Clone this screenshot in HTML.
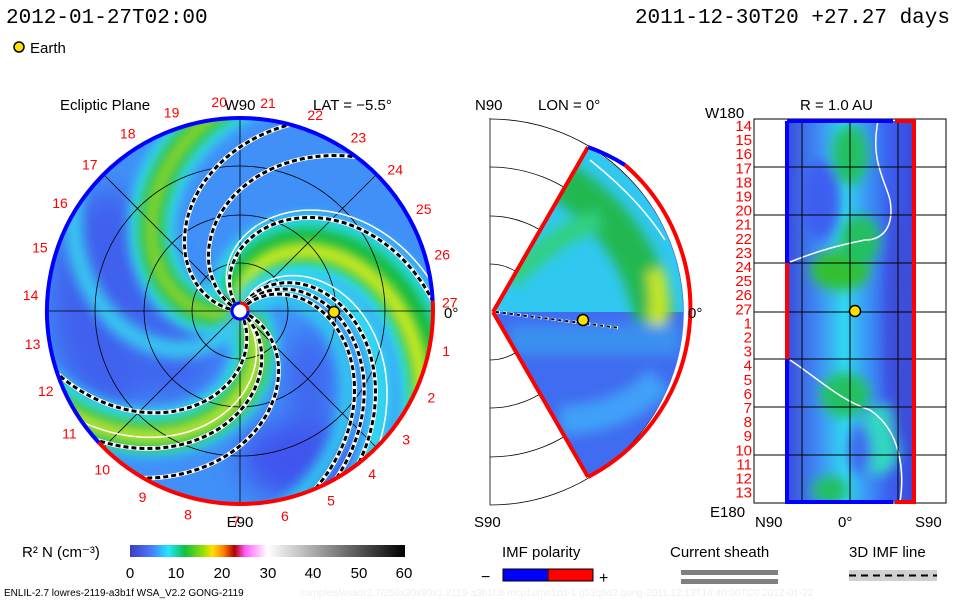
<!DOCTYPE html>
<html><head><meta charset="utf-8"><style>
html,body{margin:0;padding:0;background:#fff;}
svg{display:block;font-family:"Liberation Sans",sans-serif;}
</style></head><body>
<svg id="s" width="960" height="600" viewBox="0 0 960 600" xmlns="http://www.w3.org/2000/svg">
<defs>
<filter id="b6" x="-50%" y="-50%" width="200%" height="200%"><feGaussianBlur stdDeviation="6"/></filter>
<filter id="b12" x="-50%" y="-50%" width="200%" height="200%"><feGaussianBlur stdDeviation="14"/></filter>
<clipPath id="cc"><circle cx="240" cy="311" r="193"/></clipPath>
<clipPath id="cw"><path d="M493,312 L588,147 A190,190 0 0 1 588,477 Z"/></clipPath>
<clipPath id="cr"><rect x="786" y="121" width="129" height="381"/></clipPath>
<linearGradient id="cb" x1="0" x2="1">
<stop offset="0" stop-color="#3c3cc0"/><stop offset="0.08" stop-color="#4a7cff"/><stop offset="0.14" stop-color="#20e8ff"/>
<stop offset="0.2" stop-color="#10c040"/><stop offset="0.27" stop-color="#a0e000"/><stop offset="0.3" stop-color="#ffe000"/>
<stop offset="0.34" stop-color="#ff8000"/><stop offset="0.38" stop-color="#b00000"/><stop offset="0.42" stop-color="#ff60ff"/>
<stop offset="0.5" stop-color="#ffffff"/><stop offset="1" stop-color="#000000"/></linearGradient>
<linearGradient id="rg" x1="0" x2="1">
<stop offset="0" stop-color="#3a4ad8"/><stop offset="0.25" stop-color="#3f8cf5"/><stop offset="0.45" stop-color="#30d8f0"/>
<stop offset="0.6" stop-color="#3aa0f5"/><stop offset="0.8" stop-color="#3c5ef0"/><stop offset="1" stop-color="#3a4ad8"/></linearGradient>
</defs>
<g font-size="21" fill="#000" font-family="Liberation Mono, monospace">
<text x="6" y="23">2012-01-27T02:00</text>
<text x="950" y="23" text-anchor="end">2011-12-30T20 +27.27 days</text>
</g>
<circle cx="19" cy="47" r="5" fill="#ffe000" stroke="#000" stroke-width="1.5"/>
<text x="30" y="53" font-size="15">Earth</text>

<g clip-path="url(#cc)">
<rect x="40" y="110" width="400" height="410" fill="#4090f8"/>
<g filter="url(#b12)">
<ellipse cx="110" cy="300" rx="60" ry="110" fill="#3f60ee"/>
<ellipse cx="170" cy="340" rx="50" ry="60" fill="#3f66f0"/>
<ellipse cx="300" cy="460" rx="60" ry="40" fill="#3f55ee"/>
<ellipse cx="310" cy="380" rx="25" ry="50" fill="#3f66f0"/>
</g>
<g id="bands"></g>
</g>
<g id="grid" stroke="#000" stroke-width="0.8" fill="none"></g>
<g id="dash"></g>
<path id="rimB" fill="none" stroke="#0000ff" stroke-width="4"/>
<path id="rimR" fill="none" stroke="#ff0000" stroke-width="4"/>
<circle cx="240" cy="311" r="8" fill="#fff" stroke="#0000ff" stroke-width="3"/>
<path d="M240,303 A8,8 0 0 1 248,311" stroke="#ff0000" stroke-width="3" fill="none"/>
<circle cx="334" cy="312" r="5.5" fill="#ffe000" stroke="#000" stroke-width="1.5"/>
<g id="days" fill="#ff0000" font-size="14" text-anchor="middle"></g>
<g font-size="15">
<text x="60" y="110">Ecliptic Plane</text>
<text x="313" y="110">LAT = −5.5°</text>
<text x="240" y="110" text-anchor="middle">W90</text>
<text x="240" y="527" text-anchor="middle">E90</text>
<text x="444" y="318">0°</text>
</g>

<g fill="none" stroke="#000" stroke-width="0.8">
<path d="M490,118 V505"/>
<path d="M490,264 A48,48 0 0 1 490,360"/>
<path d="M490,216 A96,96 0 0 1 490,408"/>
<path d="M490,167 A145,145 0 0 1 490,457"/>
<path d="M490,119 A193,193 0 0 1 490,505"/>
</g>
<g clip-path="url(#cw)">
<rect x="490" y="140" width="200" height="345" fill="#3f6cf0"/>
<path d="M493,312 L588,147 A190,190 0 0 1 683,312 Z" fill="#30c8f0"/>
<g filter="url(#b6)">
<path d="M560,180 Q640,230 655,320" stroke="#20b850" stroke-width="40" fill="none"/>
<path d="M655,270 Q665,310 650,350" stroke="#c8e820" stroke-width="18" fill="none"/>
<path d="M510,280 Q560,230 600,220" stroke="#30d080" stroke-width="20" fill="none"/>
<path d="M510,340 L680,340" stroke="#3a90f0" stroke-width="30" fill="none"/>
<path d="M560,420 Q620,420 660,380" stroke="#40a0f8" stroke-width="30" fill="none"/>
</g>
<path d="M590,160 Q640,200 665,240" stroke="#fff" stroke-width="1.5" fill="none"/>
</g>
<path d="M493,312 L588,147 M493,312 L588,477" stroke="#ff0000" stroke-width="4"/>
<path d="M588,147 A190,190 0 0 1 625,165" stroke="#0000ff" stroke-width="4" fill="none"/>
<path d="M625,165 A190,190 0 0 1 588,477" stroke="#ff0000" stroke-width="4" fill="none"/>
<path d="M496,312 L620,328" stroke="#fff" stroke-width="3" stroke-dasharray="4,3"/>
<path d="M496,312 L620,328" stroke="#000" stroke-width="2" stroke-dasharray="3,4"/>
<circle cx="583" cy="320" r="5.5" fill="#ffe000" stroke="#000" stroke-width="1.5"/>
<g font-size="15">
<text x="475" y="110">N90</text>
<text x="538" y="110">LON = 0°</text>
<text x="474" y="527">S90</text>
<text x="688" y="318">0°</text>
</g>

<rect x="754" y="119" width="192" height="384" fill="none" stroke="#000" stroke-width="1"/>
<g clip-path="url(#cr)">
<rect x="786" y="121" width="129" height="381" fill="url(#rg)"/>
<g filter="url(#b6)">
<ellipse cx="850" cy="155" rx="18" ry="30" fill="#20c060"/>
<ellipse cx="840" cy="270" rx="30" ry="20" fill="#30c030"/>
<ellipse cx="860" cy="240" rx="20" ry="25" fill="#20c060"/>
<ellipse cx="845" cy="395" rx="25" ry="22" fill="#20c060"/>
<ellipse cx="880" cy="440" rx="20" ry="35" fill="#30d8c0"/>
<ellipse cx="830" cy="490" rx="18" ry="14" fill="#20c060"/>
<ellipse cx="900" cy="330" rx="14" ry="120" fill="#3c4ed8"/>
<ellipse cx="820" cy="200" rx="20" ry="40" fill="#3c5ef0"/>
<ellipse cx="860" cy="450" rx="12" ry="25" fill="#3f6cf0"/>
</g>
<path d="M878,121 C870,160 885,180 890,200 C895,230 880,240 865,240 C840,245 820,250 790,262" stroke="#fff" stroke-width="1.5" fill="none"/>
<path d="M790,360 C820,380 840,400 870,410 C900,430 905,470 900,502" stroke="#fff" stroke-width="1.5" fill="none"/>
</g>
<g stroke="#000" stroke-width="1">
<path d="M754,167H946M754,215H946M754,263H946M754,312H946M754,359H946M754,407H946M754,455H946"/>
<path d="M802,119V503M850,119V503M898,119V503"/>
</g>
<path d="M787,121V263M787,359V502H893" stroke="#0000ff" stroke-width="4" fill="none"/>
<path d="M787,263V359" stroke="#ff0000" stroke-width="4"/>
<path d="M787,121H893" stroke="#0000ff" stroke-width="4"/>
<path d="M895,121H914V502H895" stroke="#ff0000" stroke-width="4" fill="none"/>
<circle cx="855" cy="311" r="5.5" fill="#ffe000" stroke="#000" stroke-width="1.5"/>
<g id="rlab" fill="#ff0000" font-size="15" text-anchor="end"></g>
<g font-size="15">
<text x="800" y="110">R = 1.0 AU</text>
<text x="705" y="118">W180</text>
<text x="710" y="517">E180</text>
<text x="755" y="527">N90</text>
<text x="838" y="527">0°</text>
<text x="915" y="527">S90</text>
</g>

<g font-size="15">
<text x="22" y="557">R² N (cm⁻³)</text>
<text x="502" y="557">IMF polarity</text>
<text x="670" y="557">Current sheath</text>
<text x="849" y="557">3D IMF line</text>
</g>
<rect x="130" y="545" width="275" height="12" fill="url(#cb)"/>
<g font-size="15" text-anchor="middle">
<text x="130" y="578">0</text><text x="176" y="578">10</text><text x="222" y="578">20</text>
<text x="268" y="578">30</text><text x="313" y="578">40</text><text x="359" y="578">50</text><text x="404" y="578">60</text>
</g>
<text x="481" y="582" font-size="16">−</text>
<rect x="503" y="569" width="45" height="12" fill="#0000ff" stroke="#000"/>
<rect x="548" y="569" width="45" height="12" fill="#ff0000" stroke="#000"/>
<text x="599" y="583" font-size="16">+</text>
<rect x="681" y="570" width="97" height="5" fill="#808080"/>
<rect x="681" y="579" width="97" height="5" fill="#808080"/>
<rect x="849" y="570" width="88" height="11" fill="#d0d0d0"/>
<path d="M849,575.5H937" stroke="#000" stroke-width="2" stroke-dasharray="7,5"/>
<text x="4" y="596" font-size="10">ENLIL-2.7 lowres-2119-a3b1f WSA_V2.2 GONG-2119</text>
<text x="300" y="596" font-size="10" fill="#eee">samples/wsadr2.7/256x30x90x1.2119-a3b1f.8-mcp1umn1cd-1.g53q5d2.gong-2011:12:13T14:40:00TC0   2012-01-22</text>
</svg>
<script>
var NS="http://www.w3.org/2000/svg",cx=240,cy=311;
function el(t,a,p){var e=document.createElementNS(NS,t);for(var i in a)e.setAttribute(i,a[i]);document.getElementById(p).appendChild(e);return e;}
function pt(r,a){return [cx+r*Math.cos(a),cy-r*Math.sin(a)];}
function spiral(endDeg,r0,r1,k){var a1=endDeg*Math.PI/180,d="";for(var r=r0;r<=r1;r+=3){var a=a1+k*(193-r),p=pt(r,a);d+=(d?"L":"M")+p[0].toFixed(1)+","+p[1].toFixed(1);}return d;}
var bands=[
[-15,"#30e0f0",60,0.0105],[-15,"#10b840",36,0.0105],[-20,"#d8ec20",16,0.0105],
[100,"#30e0f0",46,0.009],[100,"#20b850",26,0.009],[100,"#a8e020",10,0.009],
[212,"#30e0f0",46,0.009],[214,"#20b840",28,0.009],[214,"#c8e830",14,0.009],
[-48,"#30d8f0",22,0.0105],[-72,"#30c8f0",16,0.0105],[150,"#38c8f0",18,0.009]];
bands.forEach(function(b){el("path",{d:spiral(b[0],10,230,b[3]),stroke:b[1],"stroke-width":b[2],fill:"none",filter:"url(#b6)"},"bands");});
[48,96,145].forEach(function(r){el("circle",{cx:cx,cy:cy,r:r},"grid");});
for(var i=0;i<4;i++){var a=i*Math.PI/4,p=pt(193,a),q=pt(193,a+Math.PI);el("line",{x1:p[0],y1:p[1],x2:q[0],y2:q[1]},"grid");}
[[75,0.009],[53,0.009],[3,0.0115],[-52,0.0105],[-60,0.0105],[-67,0.0105],[240,0.009],[222,0.009],[199,0.009]].forEach(function(e){var d=spiral(e[0],10,195,e[1]);
el("path",{d:d,stroke:"#fff",fill:"none","stroke-width":4.5},"dash");
el("path",{d:d,stroke:"#000",fill:"none","stroke-width":3,"stroke-dasharray":"5,3"},"dash");});
[[9,0.0115],[-44,0.0105],[215,0.009]].forEach(function(e){el("path",{d:spiral(e[0],20,195,e[1]),stroke:"#fff",fill:"none","stroke-width":1.5},"dash");});
function arc(a0,a1){var p=pt(193,a0*Math.PI/180),q=pt(193,a1*Math.PI/180);var large=(a1-a0)>180?1:0;return "M"+p[0]+","+p[1]+" A193,193 0 "+large+" 0 "+q[0]+","+q[1];}
document.getElementById("rimB").setAttribute("d",arc(3,223));
document.getElementById("rimR").setAttribute("d",arc(223,363));
for(var n=1;n<=27;n++){var a=(-11-(n-1)*13.333)*Math.PI/180,p=pt(210,a);var t=el("text",{x:p[0].toFixed(1),y:(p[1]+5).toFixed(1)},"days");t.textContent=n;}
var lab=[14,15,16,17,18,19,20,21,22,23,24,25,26,27,1,2,3,4,5,6,7,8,9,10,11,12,13];
lab.forEach(function(v,i){var t=el("text",{x:752,y:(131+i*14.1).toFixed(1)},"rlab");t.textContent=v;});
</script>
</body></html>
